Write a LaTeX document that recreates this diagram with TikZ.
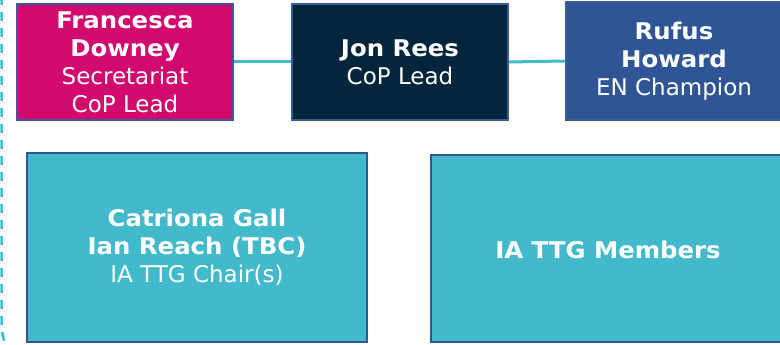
\documentclass[tikz,border=0pt]{standalone}
\usepackage{fontspec}
\setmainfont{DejaVu Sans}[BoldFeatures={FakeStretch=1.06}]
\definecolor{magentabox}{HTML}{D20A6E}
\definecolor{navybox}{HTML}{03263C}
\definecolor{bluebox}{HTML}{2F5597}
\definecolor{cyanbox}{HTML}{42BACB}
\definecolor{boxedge}{HTML}{3A5A9A}
\definecolor{dashcyan}{HTML}{2FC3D3}
\begin{document}
\begin{tikzpicture}[x=1pt,y=-1pt,
  box/.style={draw=boxedge, line width=1.8pt, text=white, align=center,
    font=\fontsize{23}{28}\selectfont, inner sep=0pt},
  topbox/.style={box, minimum width=216pt, minimum height=116pt},
  bigbox/.style={box, line width=2pt, draw=bluebox, fill=cyanbox, minimum height=189pt},
  link/.style={draw=cyanbox, line width=3pt}]
\useasboundingbox (0,0) rectangle (780,345);
\draw[dashcyan, line width=2.6pt, dash pattern=on 9pt off 7pt]
  (1.6,-4) -- (1.6,320) .. controls (1.6,334) and (4,344) .. (9,352);
\node[topbox, fill=magentabox] (fran) at (125,62)
  {\textbf{Francesca}\\\textbf{Downey}\\Secretariat\\CoP Lead};
\node[topbox, fill=navybox] (jon) at (400,62)
  {\textbf{Jon Rees}\\CoP Lead};
\node[topbox, fill=bluebox, minimum height=118pt] (rufus) at (674,61)
  {\textbf{Rufus}\\\textbf{Howard}\\EN Champion};
\node[bigbox, minimum width=340pt] (chair) at (197,247)
  {\textbf{Catriona Gall}\\\textbf{Ian Reach (TBC)}\\IA TTG Chair(s)};
\node[bigbox, minimum width=354pt, minimum height=187pt] (members) at (608,248.5) {};
\node[text=white, font=\fontsize{23}{28}\selectfont\bfseries] (memtext) at (608,250) {IA TTG Members};
\draw[link] (fran.east) -- (jon.west);
\draw[link] (jon.east) -- (rufus.west);
\end{tikzpicture}
\end{document}
